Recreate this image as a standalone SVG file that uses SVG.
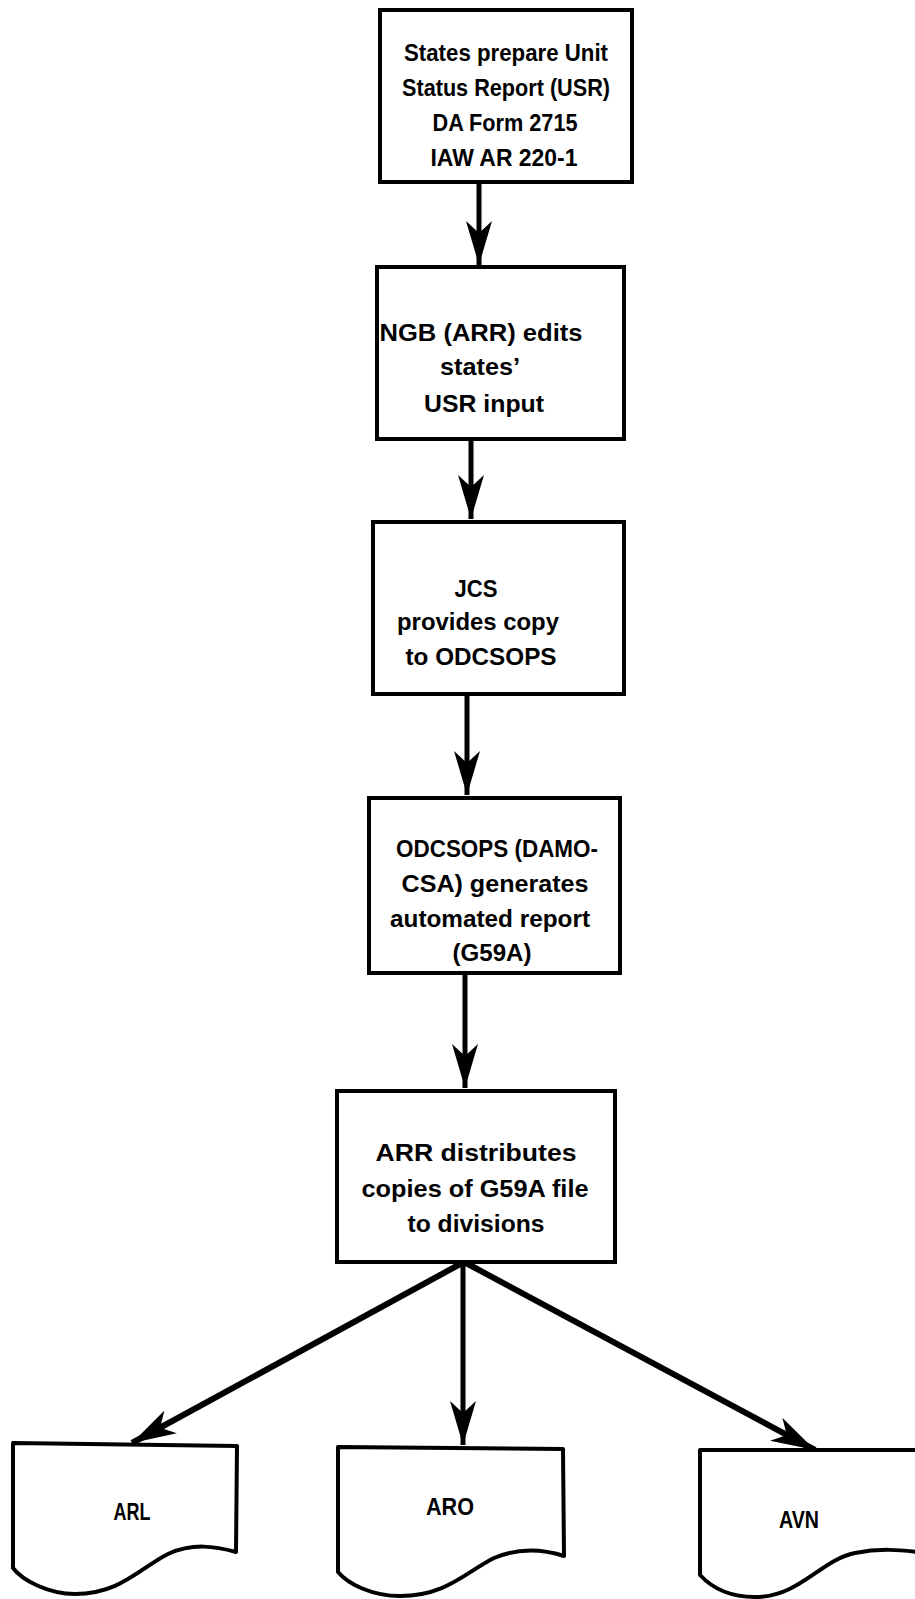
<svg xmlns="http://www.w3.org/2000/svg" width="915" height="1599" viewBox="0 0 915 1599">
  <style>
    .box { fill: #ffffff; stroke: #000000; stroke-width: 4; }
    .doc { fill: #ffffff; stroke: #000000; stroke-width: 4; stroke-linejoin: round; }
    .lbl { font-family: "Liberation Sans", Arial, sans-serif; font-weight: bold; font-size: 23px; fill: #000000; text-anchor: middle; }
    .dlbl { font-family: "Liberation Sans", Arial, sans-serif; font-weight: bold; font-size: 23px; fill: #000000; text-anchor: middle; }
    .edge { stroke: #000000; stroke-width: 5; fill: none; }
    .edge-d { stroke: #000000; stroke-width: 6; fill: none; }
  </style>
  <defs>
    <marker id="ah" viewBox="0 0 44 26" refX="44" refY="13" markerWidth="44" markerHeight="26" markerUnits="userSpaceOnUse" orient="auto">
      <path d="M0,0 L44,13 L0,26 L12,13 Z" fill="#000000"/>
    </marker>
  </defs>
  <rect width="915" height="1599" fill="#ffffff"/>

  <g id="connectors">
    <path class="edge" d="M479,182 L479,265" marker-end="url(#ah)"/>
    <path class="edge" d="M471,439 L471,519" marker-end="url(#ah)"/>
    <path class="edge" d="M467,694 L467,795" marker-end="url(#ah)"/>
    <path class="edge" d="M465,973 L465,1088" marker-end="url(#ah)"/>
    <path class="edge-d" d="M464,1262 L132,1443" marker-end="url(#ah)"/>
    <path class="edge" d="M463,1262 L463,1445" marker-end="url(#ah)"/>
    <path class="edge-d" d="M464,1262 L815,1450" marker-end="url(#ah)"/>
  </g>

  <g id="n1">
    <rect class="box" x="380" y="10" width="252" height="172"/>
    <text class="lbl" x="506" y="61" textLength="204" lengthAdjust="spacingAndGlyphs">States prepare Unit</text>
    <text class="lbl" x="506" y="96" textLength="208" lengthAdjust="spacingAndGlyphs">Status Report (USR)</text>
    <text class="lbl" x="505" y="131" textLength="145" lengthAdjust="spacingAndGlyphs">DA Form 2715</text>
    <text class="lbl" x="504" y="166" textLength="147" lengthAdjust="spacingAndGlyphs">IAW AR 220-1</text>
  </g>
  <g id="n2">
    <rect class="box" x="377" y="267" width="247" height="172"/>
    <text class="lbl" x="481" y="341" textLength="203" lengthAdjust="spacingAndGlyphs">NGB (ARR) edits</text>
    <text class="lbl" x="480" y="375" textLength="80" lengthAdjust="spacingAndGlyphs">states’</text>
    <text class="lbl" x="484" y="412" textLength="120" lengthAdjust="spacingAndGlyphs">USR input</text>
  </g>
  <g id="n3">
    <rect class="box" x="373" y="522" width="251" height="172"/>
    <text class="lbl" x="476" y="597" textLength="43" lengthAdjust="spacingAndGlyphs">JCS</text>
    <text class="lbl" x="478" y="630" textLength="162" lengthAdjust="spacingAndGlyphs">provides copy</text>
    <text class="lbl" x="481" y="665" textLength="151" lengthAdjust="spacingAndGlyphs">to ODCSOPS</text>
  </g>
  <g id="n4">
    <rect class="box" x="369" y="798" width="251" height="175"/>
    <text class="lbl" x="497" y="857" textLength="202" lengthAdjust="spacingAndGlyphs">ODCSOPS (DAMO-</text>
    <text class="lbl" x="495" y="892" textLength="187" lengthAdjust="spacingAndGlyphs">CSA) generates</text>
    <text class="lbl" x="490" y="927" textLength="200" lengthAdjust="spacingAndGlyphs">automated report</text>
    <text class="lbl" x="492" y="961" textLength="79" lengthAdjust="spacingAndGlyphs">(G59A)</text>
  </g>
  <g id="n5">
    <rect class="box" x="337" y="1091" width="278" height="171"/>
    <text class="lbl" x="476" y="1161" textLength="201" lengthAdjust="spacingAndGlyphs">ARR distributes</text>
    <text class="lbl" x="475" y="1197" textLength="227" lengthAdjust="spacingAndGlyphs">copies of G59A file</text>
    <text class="lbl" x="476" y="1232" textLength="137" lengthAdjust="spacingAndGlyphs">to divisions</text>
  </g>

  <g id="arl">
    <path class="doc" d="M13,1443 L237,1446 L236,1552 C215,1546 192,1543 168,1554 C140,1568 120,1594 75,1594 C48,1594 22,1580 13,1568 Z"/>
    <text class="dlbl" x="132" y="1520" textLength="37" lengthAdjust="spacingAndGlyphs">ARL</text>
  </g>
  <g id="aro">
    <path class="doc" d="M338,1447 L563,1449 L564,1556 C545,1550 520,1547 494,1558 C466,1572 446,1596 400,1596 C372,1596 348,1584 338,1572 Z"/>
    <text class="dlbl" x="450" y="1515" textLength="48" lengthAdjust="spacingAndGlyphs">ARO</text>
  </g>
  <g id="avn">
    <path class="doc" d="M918,1450 L700,1450 L700,1575 C712,1588 730,1597 755,1597 C800,1597 820,1560 855,1553 C880,1548 900,1550 918,1552"/>
    <text class="dlbl" x="799" y="1528" textLength="40" lengthAdjust="spacingAndGlyphs">AVN</text>
  </g>
</svg>
